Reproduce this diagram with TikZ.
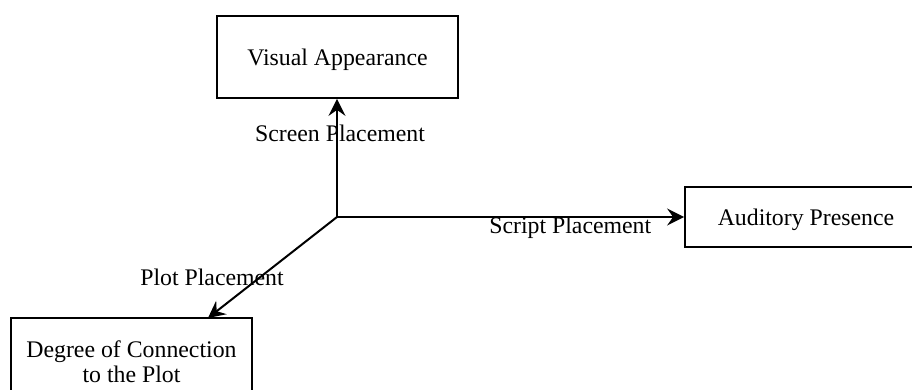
\documentclass[tikz,border=0pt]{standalone}
\usepackage{fontspec}
\setmainfont{Liberation Serif}
\usetikzlibrary{arrows.meta}
\begin{document}
\begin{tikzpicture}[x=0.5pt,y=-0.5pt,
  box/.style={draw=black,line width=0.9pt,fill=white,inner sep=0pt,align=center,
    text depth=0pt,font=\fontsize{11.9}{12.5}\selectfont},
  conn/.style={line width=1pt,-{Stealth[length=8.5pt,width=8.5pt,inset=3pt]}},
  lbl/.style={font=\fontsize{11.9}{14.5}\selectfont,inner sep=0pt}]
\clip (0,0) rectangle (912,390);
\fill[white] (0,0) rectangle (912,390);
\node[box,minimum width=120.5pt,minimum height=41pt] (va) at (337.5,57) {Visual Appearance};
\node[box,minimum width=121pt,minimum height=30pt] (ap) at (806,217) {Auditory Presence};
\node[box,minimum width=120.5pt,minimum height=44pt] (dc) at (131.5,362) {Degree of Connection\\to the Plot};
\coordinate (c) at (337,217);
\coordinate (dtip) at (208,318);
\draw[conn] (c) -- (va.south -| c) node[lbl,pos=0.706,xshift=1.5pt] {Screen Placement};
\draw[conn] (c) -- (ap.west) node[lbl,pos=0.672,yshift=-5.5pt] {Script Placement};
\draw[conn] (c) -- (dtip) node[lbl,pos=0.6,xshift=-23.8pt] {Plot Placement};
\end{tikzpicture}
\end{document}
